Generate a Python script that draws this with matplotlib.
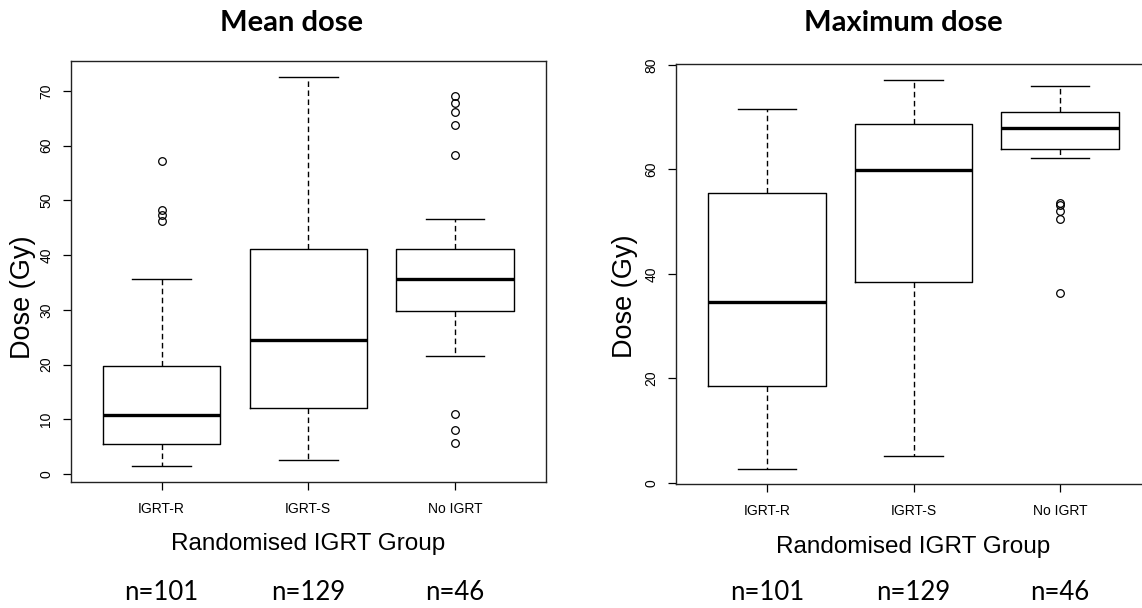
import matplotlib
matplotlib.use('Agg')
from matplotlib import pyplot as plt
from matplotlib import transforms

plt.rcParams['font.family'] = ['Liberation Sans', 'DejaVu Sans']

groups = ['IGRT-R', 'IGRT-S', 'No IGRT']
counts = ['n=101', 'n=129', 'n=46']

# mean dose panel (Gy)
mean_med = [10.8, 24.5, 35.7]
mean_q1 = [5.5, 12.1, 29.8]
mean_q3 = [19.8, 41.2, 41.1]
mean_lo = [1.4, 2.6, 21.5]
mean_hi = [35.6, 72.6, 46.6]
mean_fliers = [[57.1, 48.2, 47.3, 46.2], [], [69.1, 67.7, 66.2, 63.8, 58.2, 10.9, 8.0, 5.6]]

# maximum dose panel (Gy)
max_med = [34.7, 59.9, 67.9]
max_q1 = [18.5, 38.5, 64.0]
max_q3 = [55.5, 68.6, 70.9]
max_lo = [2.7, 5.1, 62.2]
max_hi = [71.6, 77.2, 76.0]
max_fliers = [[], [], [53.6, 53.2, 52.1, 50.6, 36.3]]

W, H = 1142, 608
fig = plt.figure(figsize=(W / 100, H / 100), dpi=100)


def draw(rect, med, q1, q3, lo, hi, fliers, yticks, title, title_x, ylab_xy, xlab_y):
    ax = fig.add_axes(rect)
    stats = []
    for i in range(len(groups)):
        stats.append(dict(med=med[i], q1=q1[i], q3=q3[i], whislo=lo[i], whishi=hi[i],
                          fliers=fliers[i], label=groups[i]))
    ax.bxp(stats, positions=[1, 2, 3], widths=0.8, capwidths=0.4,
           boxprops=dict(color='black', lw=1.0),
           whiskerprops=dict(color='black', lw=1.0, linestyle=(0, (4, 2.5))),
           capprops=dict(color='black', lw=1.0),
           medianprops=dict(color='black', lw=2.4, solid_capstyle='butt'),
           flierprops=dict(marker='o', mfc='none', mec='black', ms=5.5, mew=0.9, ls='none'))
    # R style limits: 4% padding round the data range
    allv = lo + hi + [v for f in fliers for v in f]
    pad = (max(allv) - min(allv)) * 0.04
    ax.set_ylim(min(allv) - pad, max(allv) + pad)
    ax.set_xlim(0.38, 3.62)
    ax.set_yticks(yticks)
    ax.set_yticklabels([str(t) for t in yticks], rotation=90, va='center')
    ax.set_xticks([1, 2, 3])
    ax.set_xticklabels(groups)
    ax.tick_params(axis='both', length=5.5, width=0.9, labelsize=10, direction='out')
    ax.tick_params(axis='x', pad=9)
    ax.tick_params(axis='y', pad=7)
    for s in ax.spines.values():
        s.set_linewidth(1.0)
        s.set_color('#222222')

    fig.text(title_x / W, 1 - 23 / H, title, fontfamily='Lato', fontweight='bold',
             fontsize=21, ha='center', va='center')
    fig.text(ylab_xy[0] / W, 1 - ylab_xy[1] / H, 'Dose (Gy)', rotation=90,
             fontsize=19.5, ha='center', va='center')
    cx = rect[0] + rect[2] / 2
    fig.text(cx, 1 - xlab_y / H, 'Randomised IGRT Group', fontsize=17.5, ha='center', va='center')
    tr = transforms.blended_transform_factory(ax.transData, fig.transFigure)
    for i, n in enumerate(counts):
        ax.text(i + 1, 1 - 593 / H, n, transform=tr, fontfamily='Lato', fontsize=18.5,
                ha='center', va='center')
    return ax


draw([70.6 / W, 1 - 482 / H, 475.4 / W, 421 / H], mean_med, mean_q1, mean_q3, mean_lo, mean_hi,
     mean_fliers, list(range(0, 71, 10)), 'Mean dose', 291, (23, 297), 544)
draw([676 / W, 1 - 484.3 / H, 475 / W, 420.3 / H], max_med, max_q1, max_q3, max_lo, max_hi,
     max_fliers, list(range(0, 81, 20)), 'Maximum dose', 903, (625, 296), 547)

fig.savefig('out.png', dpi=100)
